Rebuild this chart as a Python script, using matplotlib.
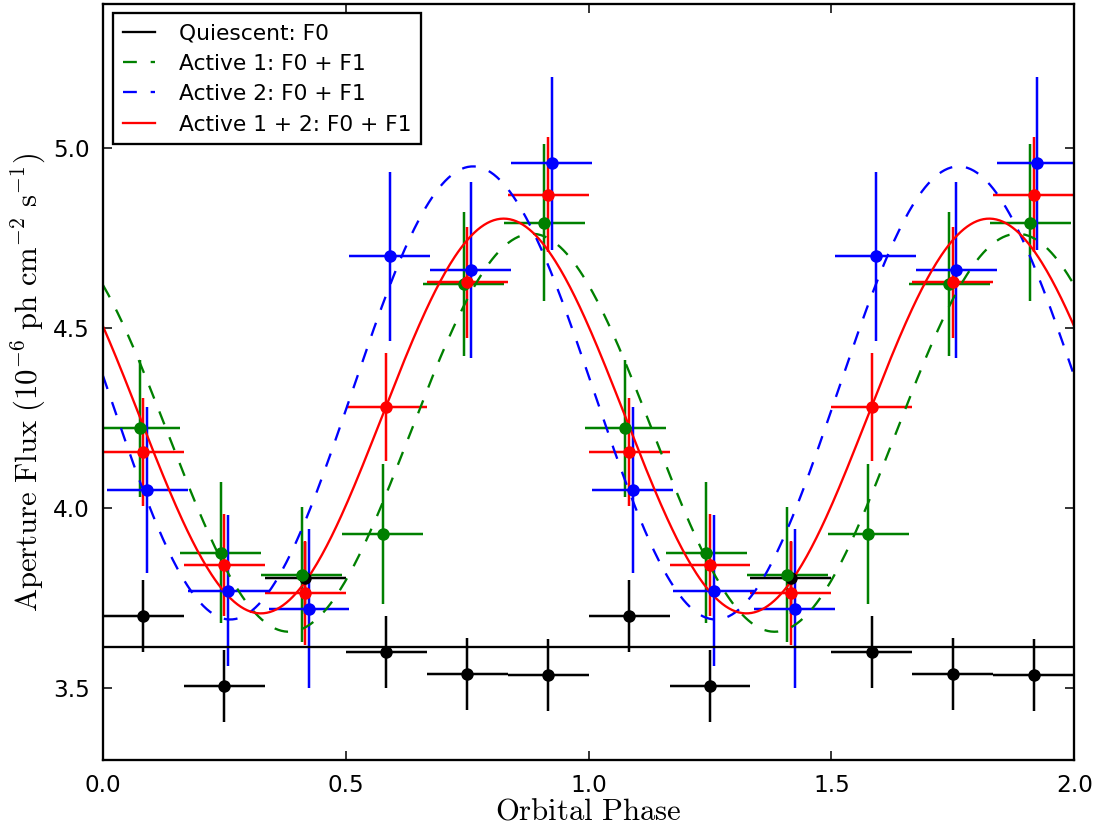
import matplotlib
matplotlib.use('Agg')
import matplotlib.pyplot as plt
import numpy as np

plt.rcParams['mathtext.fontset'] = 'cm'
plt.rcParams['font.family'] = 'DejaVu Sans'

# phase bins (centres) and half width
phase = [1/12, 3/12, 5/12, 7/12, 9/12, 11/12]
half_bin = 1/12

# quiescent
quiet_flux = [3.700, 3.506, 3.806, 3.601, 3.539, 3.536]
quiet_err = [0.10, 0.10, 0.10, 0.10, 0.10, 0.10]
# active 1
act1_flux = [4.221, 3.876, 3.814, 3.927, 4.621, 4.791]
act1_err = [0.190, 0.195, 0.187, 0.195, 0.200, 0.218]
# active 2
act2_flux = [4.050, 3.770, 3.720, 4.698, 4.661, 4.957]
act2_err = [0.230, 0.210, 0.221, 0.235, 0.245, 0.240]
# active 1 + 2
act12_flux = [4.154, 3.842, 3.763, 4.281, 4.626, 4.869]
act12_err = [0.150, 0.142, 0.144, 0.150, 0.155, 0.160]

# fit parameters: F0, F1 amplitude, phase of maximum
quiet_F0 = 3.615
act1_fit = (4.2085, 0.5525, 0.883)
act2_fit = (4.319, 0.629, 0.762)
act12_fit = (4.255, 0.548, 0.825)

fig = plt.figure(figsize=(8, 6), dpi=138.4)
ax = fig.add_axes([103/1107, 70/830, 971/1107, 756/830])

def two_cycles(vals):
    return np.concatenate([vals, vals])

ph = np.array(phase)
ph2 = np.concatenate([ph, ph + 1])

series = [
    (quiet_flux, quiet_err, 'k', 0.0),
    (act1_flux, act1_err, 'g', -0.0075),
    (act12_flux, act12_err, 'r', 0.0),
    (act2_flux, act2_err, 'b', 0.0075),
]
for flux, err, col, dx in series:
    ax.errorbar(ph2 + dx, two_cycles(flux), yerr=two_cycles(err), xerr=half_bin,
                fmt='o', color=col, ecolor=col, ms=6.5, mew=0, elinewidth=1.3,
                capsize=0)

x = np.linspace(0, 2, 600)
ax.axhline(quiet_F0, color='k', lw=1.2, label='Quiescent: F0')
for (f0, f1, pk), col, ls, lab in [
        (act1_fit, 'g', '--', 'Active 1: F0 + F1'),
        (act2_fit, 'b', '--', 'Active 2: F0 + F1'),
        (act12_fit, 'r', '-', 'Active 1 + 2: F0 + F1')]:
    line, = ax.plot(x, f0 + f1*np.cos(2*np.pi*(x - pk)), color=col, ls=ls,
                    lw=1.2, label=lab)
    if ls == '--':
        line.set_dashes((6, 6))

ax.set_xlim(0, 2)
ax.set_ylim(3.3, 5.4)
ax.set_xticks([0, 0.5, 1.0, 1.5, 2.0])
ax.set_yticks([3.5, 4.0, 4.5, 5.0])
ax.tick_params(direction='in', top=True, right=True, length=4.5, width=0.8,
               labelsize=12, pad=7)
for s in ax.spines.values():
    s.set_linewidth(1.2)

ax.set_xlabel(r'$\mathrm{Orbital\ Phase}$', fontsize=16, labelpad=0)
ax.set_ylabel(r'$\mathrm{Aperture\ Flux\ (10^{-6}\ ph\ cm^{-2}\ s^{-1})}$',
              fontsize=16, labelpad=3)

leg = ax.legend(loc='upper left', fontsize=11.3, fancybox=False, frameon=True,
                edgecolor='k', framealpha=1, borderpad=0.45, labelspacing=0.48,
                handlelength=1.5, handletextpad=1.1, borderaxespad=0.45)
leg.get_frame().set_linewidth(1.2)

fig.savefig('out.png', dpi=138.4)
